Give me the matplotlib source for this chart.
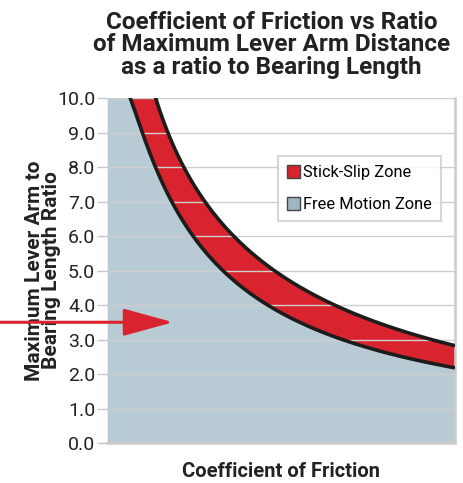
import numpy as np
import matplotlib
matplotlib.use("Agg")
import matplotlib.pyplot as plt
from matplotlib.patches import Patch

plt.rcParams['font.family'] = ['Roboto', 'DejaVu Sans']

# Data (x on a 0..1 relative friction scale)
lower_x = [0.066, 0.103, 0.138, 0.187, 0.247, 0.330, 0.460, 0.684, 1.0]
lower_y = [10.0, 9.0, 8.0, 7.0, 6.0, 5.0, 4.0, 3.0, 2.17]
upper_x = [0.138, 0.181, 0.216, 0.282, 0.362, 0.477, 0.658, 0.948, 1.0]
upper_y = [10.0, 9.0, 8.0, 7.0, 6.0, 5.0, 4.0, 3.0, 2.78]
y_ticks = [0, 1, 2, 3, 4, 5, 6, 7, 8, 9, 10]
y_tick_labels = ["0.0", "1.0", "2.0", "3.0", "4.0", "5.0", "6.0", "7.0", "8.0", "9.0", "10.0"]
arrow_y = 3.5
arrow_tip_x = 0.19

RED = '#d9232e'
BLUE = '#b8cad4'
EDGE = '#1c1c1c'


def curve(xs, ys, xq):
    # smooth curve through the read points (cubic in log-log space)
    c = np.polyfit(np.log(xs), np.log(ys), 3)
    out = np.exp(np.polyval(c, np.log(xq)))
    return np.where(xq < xs[0], np.maximum(out, ys[0]), out)


fig = plt.figure(figsize=(4.64, 4.83), dpi=100)
ax = fig.add_axes([0.2306, 0.0828, 0.75, 0.7143])

xd = np.linspace(0.0005, 1.0, 1000)
lo = curve(lower_x, lower_y, xd)
up = curve(upper_x, upper_y, xd)
top = 10.0

ax.fill_between(xd, 0, np.minimum(lo, top), color=BLUE, lw=0, zorder=1)
ax.fill_between(xd, np.minimum(lo, top), np.minimum(up, top), color=RED, lw=0, zorder=1)

m1 = xd >= lower_x[0] * 0.85
m2 = xd >= upper_x[0] * 0.85
ax.plot(xd[m1], lo[m1], color=EDGE, lw=2.6, zorder=3, solid_capstyle='butt')
ax.plot(xd[m2], up[m2], color=EDGE, lw=2.6, zorder=3, solid_capstyle='butt')

ax.set_xlim(0, 1)
ax.set_ylim(0, 10)
ax.set_xticks([])
ax.set_yticks(y_ticks)
ax.set_yticklabels(y_tick_labels, fontsize=14, color='#222222')
ax.tick_params(axis='y', length=7, color='#c8c8c8', width=1, pad=1.5)
ax.set_axisbelow(False)
ax.yaxis.grid(True, color='#cfcfcf', lw=1)
for s in ['left', 'top']:
    ax.spines[s].set_visible(False)
for s in ['right', 'bottom']:
    ax.spines[s].set_color('#cccccc')
    ax.spines[s].set_linewidth(1.8)

ax.set_xlabel('Coefficient of Friction', fontsize=14.5, fontweight='bold',
              color='#222222', labelpad=14)
ax.set_ylabel('Maximum Lever Arm to\nBearing Length Ratio', fontsize=15,
              fontweight='bold', color='#222222', labelpad=-3, linespacing=0.9)

fig.text(0.585, 0.978, 'Coefficient of Friction vs Ratio\nof Maximum Lever Arm Distance\nas a ratio to Bearing Length',
         ha='center', va='top', fontsize=17.5, fontweight='bold', color='#222222',
         linespacing=0.98)

handles = [Patch(facecolor=RED, edgecolor='#444444', lw=1, label='Stick-Slip Zone'),
           Patch(facecolor='#9fb6c3', edgecolor='#444444', lw=1, label='Free Motion Zone')]
leg = ax.legend(handles=handles, loc='upper right', bbox_to_anchor=(0.96, 0.832),
                fontsize=11.8, frameon=True, fancybox=False, edgecolor='#cccccc',
                handlelength=0.8, handleheight=0.8, handletextpad=0.2,
                labelspacing=1.05, borderpad=0.55, borderaxespad=0)
leg.get_frame().set_linewidth(1.5)
leg.set_zorder(5)

ax.annotate('', xy=(arrow_tip_x, arrow_y), xycoords='data',
            xytext=(0.0, arrow_y), textcoords=('figure fraction', 'data'),
            arrowprops=dict(arrowstyle='-|>,head_length=3.1,head_width=0.85',
                            mutation_scale=10, color=RED, lw=2.2,
                            shrinkA=0, shrinkB=0),
            annotation_clip=False, zorder=6)

fig.savefig('out.png', dpi=100)
